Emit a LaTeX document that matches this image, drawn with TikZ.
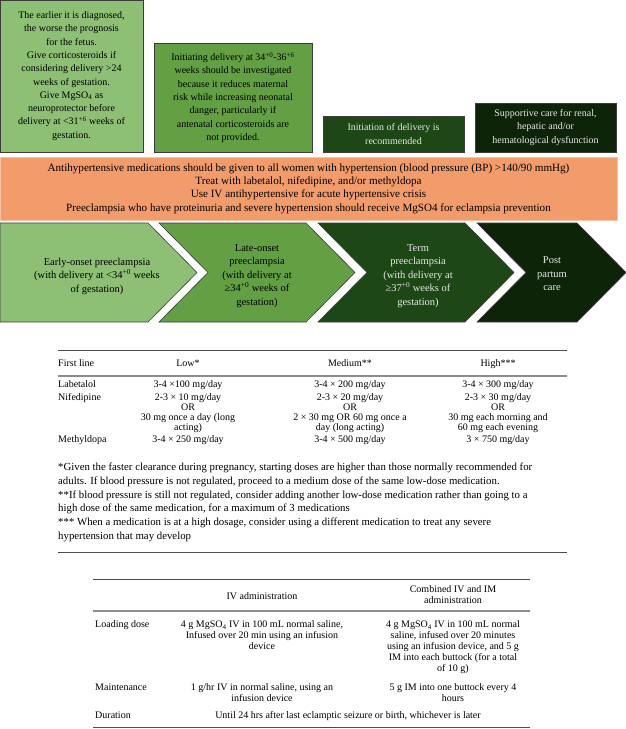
\documentclass[tikz,border=0pt]{standalone}
\usepackage{fontspec}
\setmainfont{Liberation Serif}
\definecolor{gA}{HTML}{8DBF74}
\definecolor{gB}{HTML}{62A043}
\definecolor{gC}{HTML}{1E4716}
\definecolor{gD}{HTML}{0E2409}
\definecolor{orng}{HTML}{F39C6B}
\definecolor{bord}{HTML}{3C3C3C}
\definecolor{lighttext}{HTML}{E8E8E8}
\tikzset{
  box/.style={draw=bord, line width=0.6pt, inner sep=0pt, align=center, font=\fontsize{10}{13.3}\selectfont},
  chev/.style={draw=bord, line width=0.6pt},
  ctext/.style={align=center, font=\fontsize{10.5}{13.5}\selectfont, inner sep=0pt},
  cell/.style={anchor=north, yshift=4.6pt, inner sep=0pt, align=center, font=\fontsize{10}{10}\selectfont},
  cellb/.style={cell, font=\fontsize{10}{11}\selectfont},
  lcell/.style={cell, anchor=north west, align=left},
  trule/.style={line width=0.8pt, draw=black!70},
}
\newcommand{\sps}[1]{\textsuperscript{#1}}
\begin{document}
\begin{tikzpicture}[x=1pt, y=-1pt]
\useasboundingbox (0,0) rectangle (626,729);
% top boxes
\node[box, fill=gA, minimum width=143pt, minimum height=152pt] (b1) at (71.5,76)
 {The earlier it is diagnosed,\\the worse the prognosis\\for the fetus.\\Give corticosteroids if\\considering delivery >24\\weeks of gestation.\\Give MgSO\textsubscript{4} as\\neuroprotector before\\delivery at <31\sps{+6} weeks of\\gestation.};
\node[box, fill=gB, minimum width=158pt, minimum height=109pt] (b2) at (233,97.5)
 {Initiating delivery at 34\sps{+0}-36\sps{+6}\\weeks should be investigated\\because it reduces maternal\\risk while increasing neonatal\\danger, particularly if\\antenatal corticosteroids are\\not provided.};
\node[box, fill=gC, text=lighttext, minimum width=141pt, minimum height=36pt] (b3) at (393.5,134)
 {Initiation of delivery is\\recommended};
\node[box, fill=gD, text=lighttext, minimum width=141pt, minimum height=49pt] (b4) at (545.5,127.5)
 {Supportive care for renal,\\hepatic and/or\\hematological dysfunction};
% orange band
\node[box, fill=orng, draw=orng!60!white, minimum width=617pt, minimum height=63pt, font=\fontsize{11.1}{13.4}\selectfont] (band) at (308.5,188.5)
 {Antihypertensive medications should be given to all women with hypertension (blood pressure (BP) >140/90 mmHg)\\Treat with labetalol, nifedipine, and/or methyldopa\\Use IV antihypertensive for acute hypertensive crisis\\Preeclampsia who have proteinuria and severe hypertension should receive MgSO4 for eclampsia prevention};
% chevrons
\path[chev, fill=gA] (0,223) -- (148,223) -- (197,272.5) -- (148,322) -- (0,322) -- cycle;
\path[chev, fill=gB] (159,223) -- (306,223) -- (355,272.5) -- (306,322) -- (159,322) -- (208,272.5) -- cycle;
\path[chev, fill=gC] (318,223) -- (465,223) -- (514,272.5) -- (465,322) -- (318,322) -- (367,272.5) -- cycle;
\path[chev, fill=gD] (477,223) -- (577,223) -- (626,272.5) -- (577,322) -- (477,322) -- (526,272.5) -- cycle;
\node[ctext] (c1) at (97,276) {Early-onset preeclampsia\\(with delivery at <34\sps{+0} weeks\\of gestation)};
\node[ctext] (c2) at (257,276) {Late-onset\\preeclampsia\\(with delivery at\\≥34\sps{+0} weeks of\\gestation)};
\node[ctext, text=lighttext] (c3) at (418,276) {Term\\preeclampsia\\(with delivery at\\≥37\sps{+0} weeks of\\gestation)};
\node[ctext, text=lighttext] (c4) at (552,274) {Post\\partum\\care};
% table 1
\draw[trule] (58,350) -- (567,350);
\draw[trule, draw=black!45, line width=1.2pt] (58,376) -- (567,376);
\draw[trule] (58,552) -- (567,552);
\node[lcell] (h0) at (58,364) {First line};
\node[cell] (h1) at (188,364) {Low*};
\node[cell] (h2) at (350,364) {Medium**};
\node[cell] (h3) at (498,364) {High***};
\node[lcell] (r1) at (58,385) {Labetalol};
\node[cell] (r11) at (188,385) {3-4 ×100 mg/day};
\node[cell] (r12) at (350,385) {3-4 × 200 mg/day};
\node[cell] (r13) at (498,385) {3-4 × 300 mg/day};
\node[lcell] (r2) at (58,398) {Nifedipine};
\node[cell] (r21) at (188,398) {2-3 × 10 mg/day\\OR\\30 mg once a day (long\\acting)};
\node[cell] (r22) at (350,398) {2-3 × 20 mg/day\\OR\\2 × 30 mg OR 60 mg once a\\day (long acting)};
\node[cell] (r23) at (498,398) {2-3 × 30 mg/day\\OR\\30 mg each morning and\\60 mg each evening};
\node[lcell] (r3) at (58,440) {Methyldopa};
\node[cell] (r31) at (188,440) {3-4 × 250 mg/day};
\node[cell] (r32) at (350,440) {3-4 × 500 mg/day};
\node[cell] (r33) at (498,440) {3 × 750 mg/day};
\node[lcell, font=\fontsize{10.8}{13.9}\selectfont] (fn) at (58,467)
 {*Given the faster clearance during pregnancy, starting doses are higher than those normally recommended for\\adults. If blood pressure is not regulated, proceed to a medium dose of the same low-dose medication.\\**If blood pressure is still not regulated, consider adding another low-dose medication rather than going to a\\high dose of the same medication, for a maximum of 3 medications\\*** When a medication is at a high dosage, consider using a different medication to treat any severe\\hypertension that may develop};
% table 2
\draw[trule] (93,579) -- (530,579);
\draw[trule, draw=black!45, line width=1.2pt] (93,611) -- (530,611);
\draw[trule] (93,727) -- (530,727);
\node[cellb] (t01) at (262,597) {IV administration};
\node[cellb] (t02) at (453,590) {Combined IV and IM\\administration};
\node[lcell] (t1) at (95,625) {Loading dose};
\node[cellb] (t11) at (262,625) {4 g MgSO\textsubscript{4} IV in 100 mL normal saline,\\Infused over 20 min using an infusion\\device};
\node[cellb] (t12) at (453,625) {4 g MgSO\textsubscript{4} IV in 100 mL normal\\saline, infused over 20 minutes\\using an infusion device, and 5 g\\IM into each buttock (for a total\\of 10 g)};
\node[lcell] (t2) at (95,688) {Maintenance};
\node[cellb] (t21) at (262,688) {1 g/hr IV in normal saline, using an\\infusion device};
\node[cellb] (t22) at (453,688) {5 g IM into one buttock every 4\\hours};
\node[lcell] (t3) at (95,716) {Duration};
\node[cellb] (t31) at (348,716) {Until 24 hrs after last eclamptic seizure or birth, whichever is later};
\end{tikzpicture}
\end{document}
